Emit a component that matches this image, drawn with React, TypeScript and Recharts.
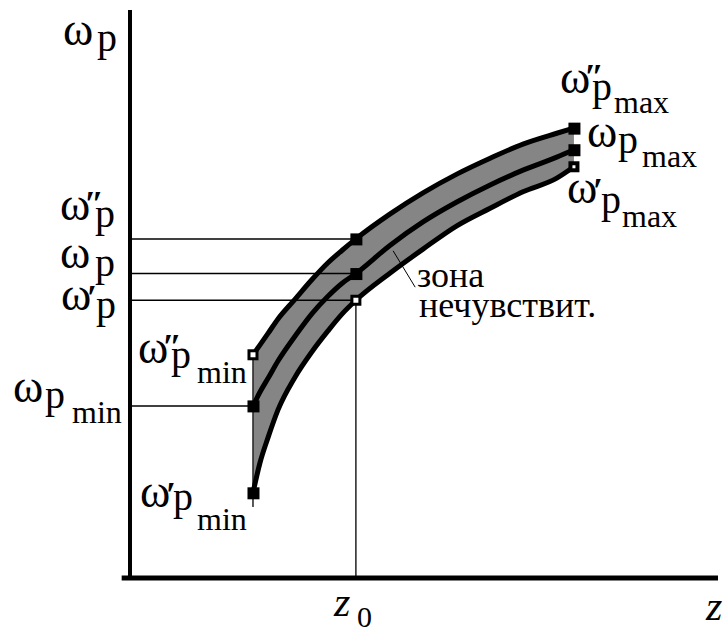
import React from 'react';
import {
  ComposedChart,
  Area,
  Line,
  Scatter,
  XAxis,
  YAxis,
  ReferenceLine,
} from 'recharts';

// Shaft position z (arbitrary units) at which the three characteristics are sampled.
const zGrid = [25.1, 26.5, 28.2, 30.2, 33.7, 37.1, 40.4, 43.3, 46.1, 53.1, 59.8, 66.7, 73.5, 80.2, 87.1, 90.6];
// ω''p — upper bound of the insensitivity zone
const upperCurve = [39.3, 41.0, 43.1, 45.6, 49.1, 52.5, 55.5, 57.7, 59.7, 64.1, 67.8, 71.1, 73.9, 76.4, 78.3, 79.2];
// ωp — nominal setting
const middleCurve = [30.3, 32.7, 35.2, 38.2, 42.6, 46.5, 49.6, 51.9, 53.6, 58.6, 62.7, 66.2, 69.2, 71.8, 74.1, 75.4];
// ω'p — lower bound of the insensitivity zone
const lowerCurve = [15.0, 20.2, 24.8, 29.6, 35.4, 39.8, 43.5, 46.5, 48.9, 53.7, 57.9, 62.0, 65.1, 68.0, 70.4, 72.4];

// Indices of the marked points: z_min, z0, z_max
const markedIdx = [0, 8, 15];
const upperMarkKinds = ['open', 'solid', 'solid'];
const middleMarkKinds = ['solid', 'solid', 'solid'];
const lowerMarkKinds = ['solid', 'open', 'dot'];

const Z_DOMAIN: [number, number] = [0, 120];
const W_DOMAIN: [number, number] = [0, 100];

const tableData = zGrid.map((z, i) => ({
  z,
  upper: upperCurve[i],
  middle: middleCurve[i],
  lower: lowerCurve[i],
  band: [lowerCurve[i], upperCurve[i]],
}));

const buildMarks = (curve: number[], kinds: string[]) =>
  markedIdx.map((idx, k) => ({ z: zGrid[idx], w: curve[idx], kind: kinds[k] }));

const markData = [
  ...buildMarks(upperCurve, upperMarkKinds),
  ...buildMarks(middleCurve, middleMarkKinds),
  ...buildMarks(lowerCurve, lowerMarkKinds),
];

const iMin = markedIdx[0];
const i0 = markedIdx[1];
const zMin = zGrid[iMin];
const z0 = zGrid[i0];

const SERIF = 'Liberation Serif';

function Marker(props: any) {
  const { cx, cy, payload } = props;
  if (cx == null || cy == null) return null;
  const s = 11;
  const h = s / 2;
  if (payload.kind === 'open') {
    return (
      <rect x={cx - h + 1.5} y={cy - h + 1.5} width={s - 3} height={s - 3} fill="#fff" stroke="#000" strokeWidth={3} />
    );
  }
  if (payload.kind === 'dot') {
    return (
      <g>
        <rect x={cx - h} y={cy - h} width={s} height={s} fill="#000" />
        <rect x={cx - 1.5} y={cy - 1.5} width={3} height={3} fill="#fff" />
      </g>
    );
  }
  return <rect x={cx - h} y={cy - h} width={s + 1} height={s + 1} fill="#000" />;
}

type TProps = { x: number; y: number; size: number; italic?: boolean; bold?: boolean; children: React.ReactNode };

function T({ x, y, size, italic, bold, children }: TProps) {
  return (
    <text
      x={x}
      y={y}
      fontFamily={SERIF}
      fontSize={size}
      fontStyle={italic ? 'italic' : undefined}
      fontWeight={bold ? 'bold' : undefined}
    >
      {children}
    </text>
  );
}

type OmegaProps = {
  x: number;
  y: number;
  prime?: string;
  sub?: string;
  pDx?: number;
  pDy?: number;
  subDx?: number;
  subDy?: number;
};

function OmegaLabel({ x, y, prime = '', sub = '', pDx = 32, pDy = 6, subDx = 56, subDy = 20 }: OmegaProps) {
  const isDouble = prime === '″';
  return (
    <g>
      <T x={x} y={y} size={46}>ω</T>
      {prime && (
        <T x={x + (isDouble ? 24 : 26)} y={y + (isDouble ? -4 : 0)} size={36} bold>
          {prime}
        </T>
      )}
      <T x={x + pDx} y={y + pDy} size={40}>p</T>
      {sub && <T x={x + subDx} y={y + subDy} size={32}>{sub}</T>}
    </g>
  );
}

function Annotations() {
  return (
    <svg
      width={728}
      height={635}
      style={{ position: 'absolute', left: 0, top: 0, pointerEvents: 'none' }}
    >
      {/* vertical axis labels */}
      <OmegaLabel x={63} y={45} pDx={34} pDy={6} />
      <OmegaLabel x={60} y={220} prime="″" pDx={35} pDy={7} />
      <OmegaLabel x={60} y={268} pDx={35} pDy={8} />
      <OmegaLabel x={61} y={310} prime="′" pDx={35} pDy={8} />
      <OmegaLabel x={13} y={402} pDx={32} pDy={6} sub="min" subDx={59} subDy={21} />
      {/* start of the curves */}
      <OmegaLabel x={138} y={363} prime="″" pDx={33} pDy={5} sub="min" subDx={59} subDy={20} />
      <OmegaLabel x={140} y={507} prime="′" pDx={33} pDy={3} sub="min" subDx={57} subDy={23} />
      {/* end of the curves */}
      <OmegaLabel x={560} y={93} prime="″" pDx={32} pDy={7} sub="max" subDx={54} subDy={20} />
      <OmegaLabel x={587} y={147} pDx={31} pDy={6} sub="max" subDx={55} subDy={20} />
      <OmegaLabel x={567} y={203} prime="′" pDx={34} pDy={10} sub="max" subDx={55} subDy={24} />
      {/* zone caption */}
      <T x={417} y={287} size={36}>зона</T>
      <T x={419} y={317} size={36}>нечувствит.</T>
      {/* horizontal axis labels */}
      <T x={334} y={616} size={42} italic>z</T>
      <T x={357} y={627} size={30}>0</T>
      <T x={706} y={620} size={42} italic>z</T>
    </svg>
  );
}

export default function App() {
  return (
    <div style={{ position: 'absolute', left: 0, top: 0, width: 728, height: 635, background: '#fff' }}>
      <ComposedChart
        width={728}
        height={635}
        data={tableData}
        margin={{ top: 10, right: 10, bottom: 57, left: 130 }}
      >
        <XAxis dataKey="z" type="number" domain={Z_DOMAIN} height={0} hide allowDataOverflow />
        <YAxis type="number" domain={W_DOMAIN} width={0} hide allowDataOverflow />
        <Area
          dataKey="band"
          type="monotone"
          stroke="none"
          fill="#858585"
          fillOpacity={1}
          isAnimationActive={false}
          activeDot={false}
        />
        {/* guide lines from the axes to the marked points */}
        <ReferenceLine
          segment={[{ x: 0, y: upperCurve[i0] }, { x: z0, y: upperCurve[i0] }]}
          stroke="#000"
          strokeWidth={1.5}
        />
        <ReferenceLine
          segment={[{ x: 0, y: middleCurve[i0] }, { x: z0, y: middleCurve[i0] }]}
          stroke="#000"
          strokeWidth={1.5}
        />
        <ReferenceLine
          segment={[{ x: 0, y: lowerCurve[i0] }, { x: z0, y: lowerCurve[i0] }]}
          stroke="#000"
          strokeWidth={1.5}
        />
        <ReferenceLine
          segment={[{ x: 0, y: middleCurve[iMin] }, { x: zMin, y: middleCurve[iMin] }]}
          stroke="#000"
          strokeWidth={1.5}
        />
        <ReferenceLine
          segment={[{ x: z0, y: lowerCurve[i0] }, { x: z0, y: 0 }]}
          stroke="#222"
          strokeWidth={1.5}
        />
        <ReferenceLine
          segment={[{ x: zMin, y: upperCurve[iMin] }, { x: zMin, y: 12.5 }]}
          stroke="#222"
          strokeWidth={1.5}
        />
        {/* leader from the zone caption */}
        <ReferenceLine
          segment={[{ x: 53.7, y: 57.6 }, { x: 58.2, y: 51.2 }]}
          stroke="#000"
          strokeWidth={1}
        />
        {/* coordinate axes */}
        <ReferenceLine
          segment={[{ x: 0, y: 100 }, { x: 0, y: 0 }]}
          stroke="#000"
          strokeWidth={4}
          ifOverflow="visible"
        />
        <ReferenceLine
          segment={[{ x: -1.7, y: 0 }, { x: 120, y: 0 }]}
          stroke="#000"
          strokeWidth={5}
          ifOverflow="visible"
        />
        <Line dataKey="upper" type="monotone" stroke="#000" strokeWidth={5} dot={false} activeDot={false} isAnimationActive={false} />
        <Line dataKey="middle" type="monotone" stroke="#000" strokeWidth={5} dot={false} activeDot={false} isAnimationActive={false} />
        <Line dataKey="lower" type="monotone" stroke="#000" strokeWidth={5} dot={false} activeDot={false} isAnimationActive={false} />
        <Scatter data={markData} dataKey="w" shape={<Marker />} isAnimationActive={false} />
      </ComposedChart>
      <Annotations />
    </div>
  );
}
